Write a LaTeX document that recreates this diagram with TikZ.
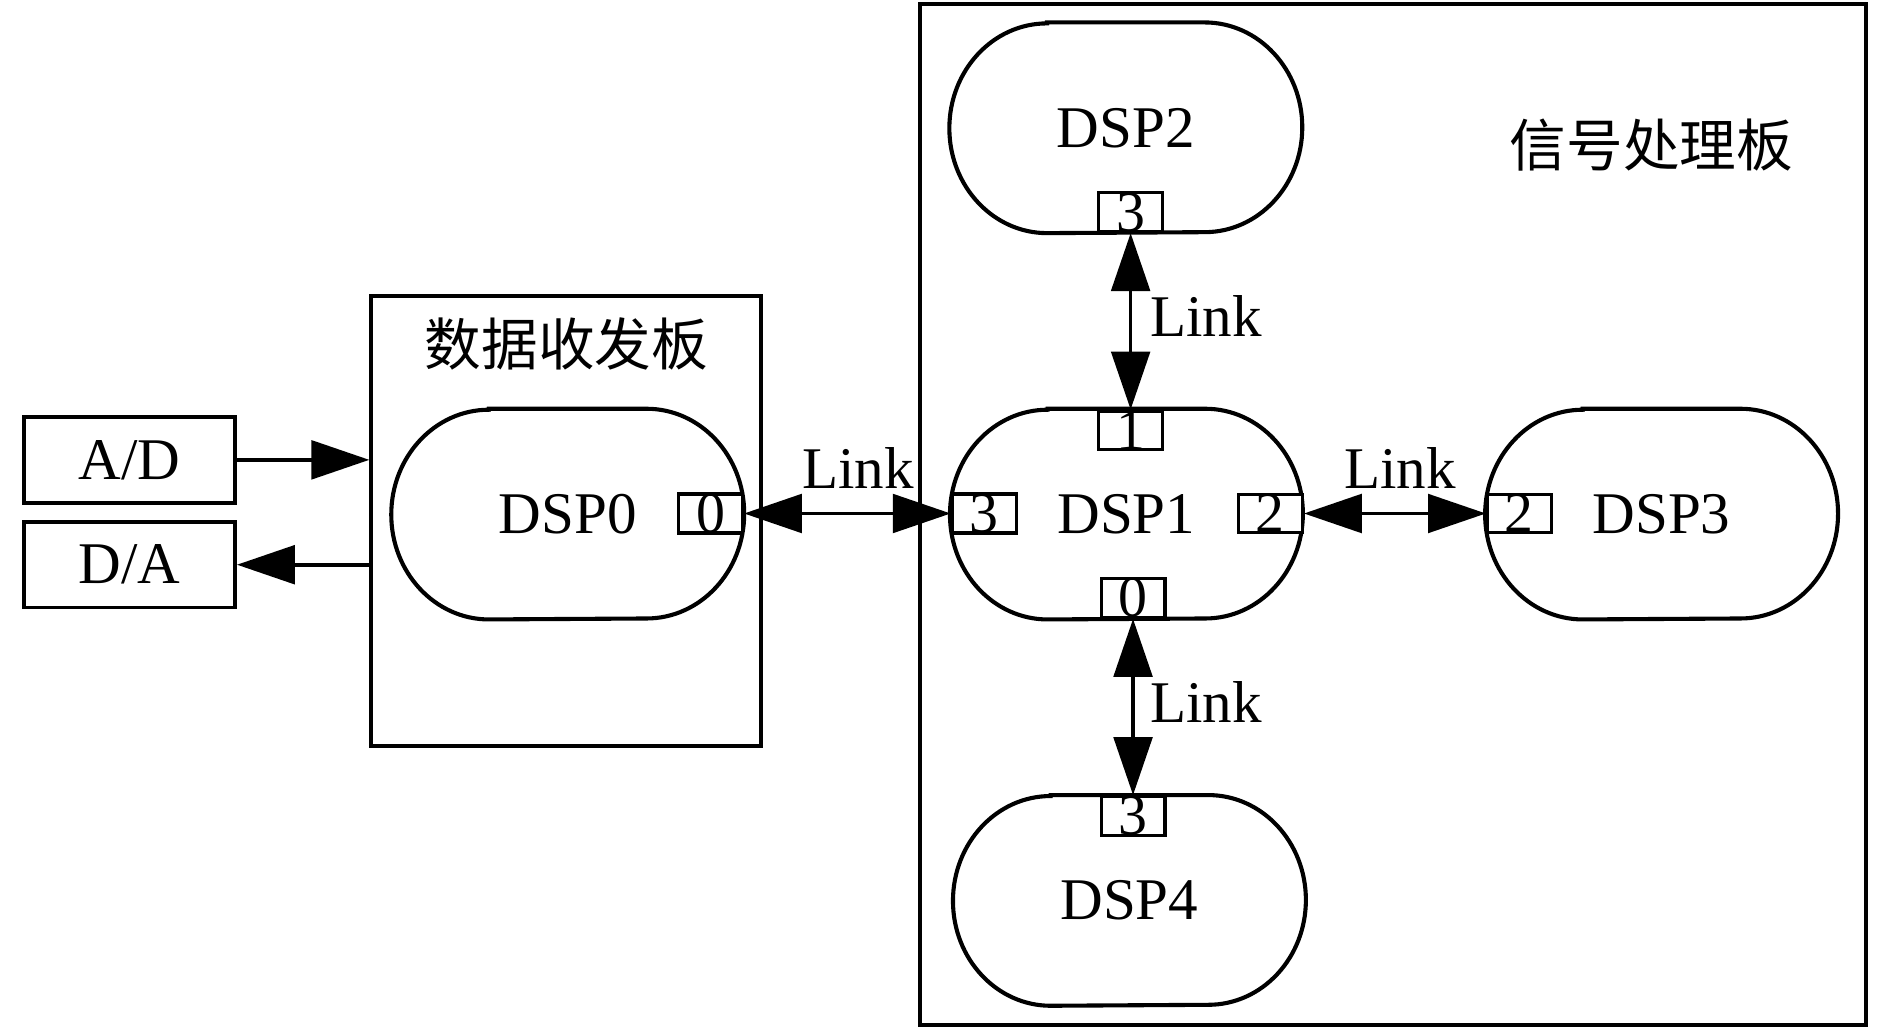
\documentclass[tikz,border=0pt]{standalone}
\usepackage{fontspec}
\setmainfont{Liberation Serif}
\newfontfamily\cjk{Noto Sans CJK SC}
\usetikzlibrary{arrows.meta}
\begin{document}
\begin{tikzpicture}[x=0.5pt,y=-0.5pt,
  bd/.style={line width=1.7pt},
  board/.style={draw, line width=1.6pt, inner sep=0pt},
  dspbox/.style={minimum width=146pt, minimum height=87pt, inner sep=0pt, font=\fontsize{24.5}{28}\selectfont},
  port/.style={draw, fill=white, line width=1.3pt, minimum width=26.5pt, minimum height=16pt, inner sep=0pt, font=\fontsize{24}{26}\selectfont},
  io/.style={draw, line width=1.6pt, minimum width=87.5pt, minimum height=35.5pt, inner sep=0pt, font=\fontsize{24.5}{28}\selectfont},
  lbl/.style={font=\fontsize{24.5}{28}\selectfont, inner sep=0pt},
  cjklbl/.style={font=\cjk\fontsize{23.5}{26}\selectfont, inner sep=0pt},
  conn/.style={line width=1.5pt, -{Triangle[length=24pt,width=16pt]}},
  biconn/.style={line width=1.5pt, {Triangle[length=24pt,width=16pt]}-{Triangle[length=24pt,width=16pt]}}
]
\useasboundingbox (0,0) rectangle (1568,853);

% boards
\node[board, minimum width=161.75pt, minimum height=186.5pt] (rx) at (469.75,432.1) {};
\node[board, minimum width=392.5pt, minimum height=423.5pt] (sp) at (1155.5,426.5) {};
\node[cjklbl] (rxt) at (470,285) {数据收发板};
\node[cjklbl] (spt) at (1370,120) {信号处理板};

% I/O boxes
\node[io] (ad) at (107.5,381.5) {A/D};
\node[io] (da) at (107.5,468.5) {D/A};

% DSP nodes
\node[dspbox] (dsp0) at (471,426.5) {DSP0};
\node[dspbox] (dsp1) at (934.5,426.5) {DSP1};
\node[dspbox] (dsp2) at (934,106) {DSP2};
\node[dspbox] (dsp3) at (1378.5,426.5) {DSP3};
\node[dspbox] (dsp4) at (937,747) {DSP4};
\foreach \n in {dsp0,dsp1,dsp2,dsp3,dsp4}{
  \draw[bd] ([xshift=40.5pt]\n.north west) -- ([xshift=-40.5pt]\n.north east)
    arc[start angle=90,end angle=-90,x radius=40.5pt,y radius=43.5pt]
    -- ([xshift=40.5pt]\n.south west)
    arc[start angle=270,end angle=90,x radius=40.5pt,y radius=43.5pt] -- cycle;
}

% ports
\node[port] (p00) at (589.5,426) {0};
\node[port] (p13) at (816.5,426) {3};
\node[port] (p12) at (1054,426) {2};
\node[port] (p11) at (938,357) {1};
\node[port] (p10) at (940,496) {0};
\node[port] (p23) at (938,176) {3};
\node[port] (p32) at (1260.5,426) {2};
\node[port] (p43) at (940,677) {3};

% connectors
\draw[conn] (ad.east) -- (ad.east -| rx.west);
\draw[conn] (da.east -| rx.west) -- (da.east);
\draw[biconn] (p00.east) -- (p13.west);
\draw[biconn] (p12.east) -- (p32.west);
\draw[biconn] (p23.south) -- (p11.north);
\draw[biconn] (p10.south) -- (p43.north);

% labels
\node[lbl, anchor=base] (l1) at (712,405) {Link};
\node[lbl, anchor=base] (l2) at (1161.5,405) {Link};
\node[lbl, anchor=base west] (l3) at (954,279) {Link};
\node[lbl, anchor=base west] (l4) at (954,599) {Link};
\end{tikzpicture}
\end{document}
